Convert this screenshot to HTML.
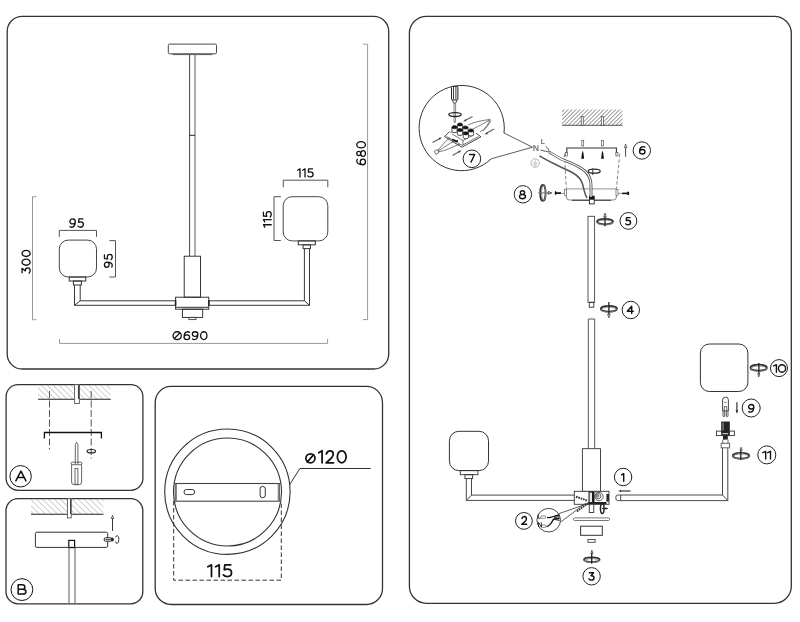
<!DOCTYPE html>
<html><head><meta charset="utf-8">
<style>
html,body{margin:0;padding:0;background:#fff;}
svg{display:block;will-change:transform;}
text{font-family:"Liberation Sans",sans-serif;fill:#111;stroke:#111;stroke-width:0.3;}
</style></head>
<body>
<svg width="800" height="622" viewBox="0 0 800 622">
<defs>
<pattern id="hatch" patternUnits="userSpaceOnUse" width="4.2" height="4.2" patternTransform="rotate(-45)">
<line x1="0" y1="0" x2="0" y2="4.2" stroke="#999" stroke-width="0.9"/>
</pattern>
<pattern id="hatch2" patternUnits="userSpaceOnUse" width="2.8" height="2.8" patternTransform="rotate(45)">
<line x1="0" y1="0" x2="0" y2="2.8" stroke="#333" stroke-width="1"/>
</pattern>
</defs>

<!-- ============ PANELS ============ -->
<g fill="none" stroke="#333" stroke-width="1.3">
<rect x="7.2" y="16.4" width="381.5" height="352.6" rx="15" ry="15"/>
<rect x="6.1" y="384.6" width="136.8" height="105.7" rx="12" ry="12"/>
<rect x="6" y="498.6" width="136.8" height="105.2" rx="12" ry="12"/>
<rect x="155.2" y="386.4" width="227.3" height="218.1" rx="16" ry="16"/>
<rect x="409.4" y="16.3" width="381.9" height="587" rx="17" ry="17"/>
</g>

<!-- ============ TOP-LEFT PANEL ============ -->
<g id="tl">
<!-- canopy -->
<rect x="168.3" y="44.1" width="48.2" height="9.7" rx="1.2" fill="none" stroke="#333" stroke-width="0.9"/>
<line x1="172.5" y1="54.6" x2="212.4" y2="54.6" stroke="#555" stroke-width="1"/>
<!-- rod -->
<line x1="189.6" y1="55" x2="189.6" y2="256" stroke="#444" stroke-width="1"/>
<line x1="195" y1="55" x2="195" y2="256" stroke="#777" stroke-width="1.2"/>
<line x1="189.6" y1="135.3" x2="195" y2="135.3" stroke="#222" stroke-width="1"/>
<!-- body -->
<rect x="184.2" y="256.2" width="16.3" height="41" fill="none" stroke="#222" stroke-width="0.9"/>
<!-- hub -->
<rect x="175.6" y="297.2" width="33.2" height="12" fill="none" stroke="#222" stroke-width="0.9"/>
<line x1="175.6" y1="307.3" x2="208.8" y2="307.3" stroke="#333" stroke-width="1"/>
<path d="M175.6,300.3 V305.8 M208.8,300.3 V305.8" stroke="#222" stroke-width="1.6"/>
<rect x="182.4" y="309.2" width="20.3" height="8.2" fill="none" stroke="#222" stroke-width="0.9"/>
<rect x="188.9" y="317.4" width="7" height="2.2" fill="none" stroke="#444" stroke-width="0.9"/>
<!-- arms -->
<g fill="none" stroke="#222" stroke-width="0.9">
<path d="M175.6,300.8 H80.2 V285 M175.6,305.3 H74.5 V285 M74.5,305.3 L80.2,300.8"/>
<path d="M208.8,300.8 H304.4 V248.6 M208.8,305.3 H309.5 V248.6 M309.5,305.3 L304.4,300.8"/>
</g>
<!-- left shade -->
<rect x="59.3" y="240.1" width="37.2" height="36.9" rx="9" ry="9" fill="none" stroke="#333" stroke-width="0.9"/>
<rect x="69.2" y="277" width="16.6" height="4" fill="none" stroke="#333" stroke-width="1"/>
<rect x="73.4" y="281" width="8" height="4" fill="none" stroke="#333" stroke-width="1"/>
<!-- right shade -->
<rect x="283.2" y="196.7" width="44.6" height="44.2" rx="9" ry="9" fill="none" stroke="#333" stroke-width="0.9"/>
<rect x="298.3" y="240.9" width="17" height="3.9" fill="none" stroke="#333" stroke-width="1"/>
<rect x="303.1" y="244.8" width="7.3" height="3.8" fill="none" stroke="#333" stroke-width="1"/>
<!-- dimension lines (black) -->
<g fill="none" stroke="#555" stroke-width="1">
<path d="M59.3,236.9 V230.4 H96.5 V236.9"/>
<path d="M109.4,240.6 H115.5 V277 H109.4"/>
<path d="M283.3,187.3 V180.2 H327.8 V187.3"/>
<path d="M280.9,196.7 H274 V240.5 H280.8"/>
</g>
<!-- dimension lines (gray) -->
<g fill="none" stroke="#999" stroke-width="1">
<path d="M36.5,196.7 H32.5 V319.7 H36.5"/>
<path d="M363,44.2 H367.6 V319.6 H363"/>
<path d="M59.5,339 V343.4 H327.6 V339"/>
</g>
<!-- dimension text -->
</g>

<!-- ============ PANEL A ============ -->
<g id="pa">
<rect x="38" y="385" width="72.8" height="14.3" fill="url(#hatch)"/>
<line x1="38" y1="399.3" x2="110.8" y2="399.3" stroke="#222" stroke-width="1.1"/>
<rect x="74.6" y="384.6" width="4.8" height="18.9" fill="#fff" stroke="#555" stroke-width="0.9"/>
<line x1="78.6" y1="385" x2="78.6" y2="399" stroke="#444" stroke-width="1.4"/>
<g stroke="#444" stroke-width="0.9" stroke-dasharray="7,2.5" fill="none">
<line x1="49.5" y1="391" x2="49.5" y2="449.5"/>
<line x1="91.2" y1="391" x2="91.2" y2="458.5"/>
</g>
<path d="M44.4,438.5 V432.5 H101.4 V438.5" fill="none" stroke="#111" stroke-width="1.3"/>
<ellipse cx="91.3" cy="451.2" rx="4.2" ry="1.7" fill="none" stroke="#222" stroke-width="1.2"/>
<!-- screwdriver -->
<g fill="none" stroke="#555" stroke-width="0.9">
<path d="M75.3,464 V444.5 L76.6,442.2 L77.9,444.5 V464"/>
<rect x="71.2" y="462.2" width="10.6" height="2.5" rx="0.8"/>
<path d="M71.6,464.7 V482 Q71.6,484.7 74,484.7 H79.2 Q81.6,484.7 81.6,482 V464.7"/>
<rect x="75" y="468.6" width="2.9" height="15.6"/>
</g>
<circle cx="20.6" cy="476.3" r="10.7" fill="none" stroke="#111" stroke-width="1"/>
</g>

<!-- ============ PANEL B ============ -->
<g id="pb">
<rect x="31" y="499" width="72.4" height="15.3" fill="url(#hatch)"/>
<line x1="31" y1="514.3" x2="103.4" y2="514.3" stroke="#222" stroke-width="1.1"/>
<rect x="67.4" y="498.6" width="3.8" height="19.3" fill="#fff" stroke="#555" stroke-width="0.9"/>
<line x1="70.6" y1="499" x2="70.6" y2="514" stroke="#444" stroke-width="1.2"/>
<rect x="35.4" y="532.2" width="72.3" height="15.2" rx="1.5" fill="none" stroke="#333" stroke-width="1"/>
<rect x="68.8" y="540.4" width="5.8" height="7.2" fill="none" stroke="#111" stroke-width="1.2"/>
<g stroke="#666" stroke-width="1.1">
<line x1="69" y1="547.6" x2="69" y2="603.5"/>
<line x1="75" y1="547.6" x2="75" y2="603.5"/>
</g>
<path d="M112.5,531 V516.5" stroke="#222" stroke-width="0.9"/>
<path d="M111.3,518.5 L112.5,515.3 L113.7,518.5 Z" fill="#fff" stroke="#222" stroke-width="0.7"/>
<rect x="104.2" y="537.8" width="7.5" height="3.4" rx="1.2" fill="#fff" stroke="#222" stroke-width="1"/>
<path d="M105.5,539.5 H111" stroke="#222" stroke-width="0.8"/>
<path d="M111.5,537.3 Q114,537.5 114,539.5 Q114,541.5 111.5,541.7 Z" fill="#222"/>
<path d="M115.6,537.3 Q116,535.6 117.2,535.6 Q118.9,535.8 118.9,539.5 Q118.9,543.3 117,543.3 Q115.5,543.2 115.5,541.5" fill="none" stroke="#222" stroke-width="0.9"/>
<circle cx="21.9" cy="589.6" r="10.9" fill="none" stroke="#111" stroke-width="1"/>
</g>

<!-- ============ CIRCLE PANEL ============ -->
<g id="pc">
<circle cx="227.4" cy="491.7" r="62.7" fill="none" stroke="#333" stroke-width="1.1"/>
<circle cx="227.5" cy="492" r="54" fill="none" stroke="#333" stroke-width="1.1"/>
<rect x="175.3" y="483.5" width="104" height="17.7" fill="#fff" stroke="#444" stroke-width="1.1"/>
<line x1="176.2" y1="484" x2="176.2" y2="501" stroke="#888" stroke-width="1.6"/>
<line x1="278.5" y1="484" x2="278.5" y2="501" stroke="#888" stroke-width="1.6"/>
<rect x="184" y="489.5" width="10.6" height="5.1" rx="2.5" fill="none" stroke="#333" stroke-width="1"/>
<rect x="260.1" y="486.4" width="5.2" height="11.3" rx="2.5" fill="none" stroke="#333" stroke-width="1"/>
<g stroke="#333" stroke-width="1" stroke-dasharray="4.5,2.5" fill="none">
<path d="M173.7,501 V580.2 H281.3 V501"/>
</g>
<path d="M289.6,484.7 L299.9,468.5 H370.8" fill="none" stroke="#333" stroke-width="1"/>
</g>

<!-- ============ RIGHT PANEL ============ -->
<g id="rp">
<!-- ceiling -->
<rect x="562" y="109.4" width="60.5" height="15.9" fill="url(#hatch2)"/>
<line x1="562" y1="125.3" x2="622.5" y2="125.3" stroke="#555" stroke-width="1"/>
<rect x="581.2" y="116.4" width="2" height="9.1" fill="#fff" stroke="#444" stroke-width="0.7"/>
<rect x="601.3" y="116.4" width="2" height="9.1" fill="#fff" stroke="#444" stroke-width="0.7"/>
<!-- dowels -->
<rect x="581.8" y="140.3" width="1.9" height="5.7" fill="#fff" stroke="#555" stroke-width="0.7"/>
<rect x="601.6" y="140.3" width="1.9" height="5.7" fill="#fff" stroke="#555" stroke-width="0.7"/>
<!-- bracket -->
<path d="M566.8,154.5 V148 H616.4 V154.5" fill="none" stroke="#333" stroke-width="1.1"/>
<rect x="565.3" y="152.5" width="2" height="3.5" fill="#fff" stroke="#555" stroke-width="0.7"/>
<rect x="615.9" y="152.5" width="2" height="3.5" fill="#fff" stroke="#555" stroke-width="0.7"/>
<path d="M581.3,158.8 L581.9,153.5 L582.7,150.5 L583.5,153.5 L584.1,158.8 Z" fill="#111"/>
<path d="M601.1,158.8 L601.7,153.5 L602.5,150.5 L603.3,153.5 L603.9,158.8 Z" fill="#111"/>
<g stroke="#666" stroke-width="0.8" stroke-dasharray="3.5,2" fill="none">
<path d="M564.4,153.8 L566.3,188.5"/>
<path d="M619.8,153.8 L616.4,188.5"/>
</g>
<!-- canopy -->
<path d="M566.3,188.5 V197 Q566.3,200 569.5,200 H613.2 Q616.4,200 616.4,197 V188.5" fill="none" stroke="#777" stroke-width="0.9"/>
<line x1="566.3" y1="188.8" x2="616.4" y2="188.8" stroke="#aaa" stroke-width="1.3"/>
<line x1="572" y1="200.4" x2="611" y2="200.4" stroke="#555" stroke-width="1.1"/>
<rect x="589.4" y="196.2" width="4.8" height="7.7" fill="#fff" stroke="#222" stroke-width="0.9"/>
<rect x="589.4" y="196.2" width="4.8" height="3.5" fill="#111"/>
<!-- side screws -->
<path d="M556,193.1 H561" stroke="#111" stroke-width="1.7"/>
<ellipse cx="555.6" cy="193.1" rx="0.9" ry="2" fill="#111"/>
<path d="M561.3,193.4 H566" stroke="#444" stroke-width="0.6"/>
<path d="M622.2,193.4 H627.7" stroke="#111" stroke-width="1.6"/>
<ellipse cx="628.1" cy="193.4" rx="1.1" ry="1.8" fill="#111"/>
<path d="M617.5,193.4 H622.2" stroke="#444" stroke-width="0.6"/>
<rect x="564.6" y="189.5" width="2" height="6" fill="#fff" stroke="#555" stroke-width="0.6"/>
<rect x="616" y="189.5" width="2" height="6" fill="#fff" stroke="#555" stroke-width="0.6"/>
<!-- wires -->
<path d="M549.3,152.1 C556,156 560,159 566,161 C574,164 580,167 585.4,171.4 C589,175 591,179 591,185 V197" fill="none" stroke="#444" stroke-width="2.8"/>
<path d="M549.3,152.1 C556,156 560,159 566,161 C574,164 580,167 585.4,171.4 C589,175 591,179 591,185 V197" fill="none" stroke="#fff" stroke-width="1.2"/>
<path d="M545.7,146.4 C548,148 549,150 549.3,152.1 M540.4,150 C544,151 547,151.5 549.3,152.1" fill="none" stroke="#444" stroke-width="0.9"/>
<path d="M539.4,155.8 C548,161 555,164 561.3,167.3 C567,170 571,171.5 573.9,173.5 C578,176 581,179 582.5,184 C584,189 584.5,194 587,198" fill="none" stroke="#555" stroke-width="1.5"/>
<ellipse cx="594.2" cy="171.2" rx="6" ry="2" fill="none" stroke="#222" stroke-width="1.2"/>
<line x1="592.8" y1="168.5" x2="592.8" y2="175" stroke="#222" stroke-width="0.9"/>
<!-- N L ground -->
<text x="535.8" y="151.1" font-size="8.7" text-anchor="middle" font-weight="bold" style="fill:#777;stroke:none">N</text>
<text x="542.9" y="143.7" font-size="6.8" text-anchor="middle" font-weight="bold" style="fill:#666;stroke:none">L</text>
<circle cx="535.2" cy="163.1" r="4.2" fill="none" stroke="#aaa" stroke-width="0.9"/>
<path d="M532.7,163 H537.7 M533.4,164.5 H537 M534.2,165.9 H536.2 M535.2,160.3 V163" stroke="#aaa" stroke-width="0.7"/>
<!-- step 8 ring + arrow -->
<ellipse cx="542.9" cy="192.9" rx="2.7" ry="8" fill="none" stroke="#333" stroke-width="1.8"/>
<ellipse cx="543.7" cy="192.9" rx="2.1" ry="7.4" fill="none" stroke="#888" stroke-width="0.9"/>
<path d="M538.2,192.9 H548.5" stroke="#777" stroke-width="1.1"/>
<path d="M548.3,191.5 L551.75,192.9 L548.3,194.3 Z" fill="#fff" stroke="#222" stroke-width="0.8"/>
<!-- up arrow 6 -->
<path d="M625.6,156.7 V146" stroke="#333" stroke-width="0.9"/>
<path d="M624.4,147.5 L625.6,144 L626.8,147.5 Z" fill="#fff" stroke="#333" stroke-width="0.7"/>
<!-- inset 7 -->
<path d="M504,133 A42.6,42.6 0 1,0 491.2,158.8" fill="none" stroke="#333" stroke-width="1"/>
<path d="M504,133 L532.5,147.2 L491.2,158.8" fill="none" stroke="#333" stroke-width="0.8"/>
<g id="inset7">
<!-- screwdriver -->
<rect x="451.5" y="86.4" width="6.4" height="13.6" rx="1" fill="#fff" stroke="#222" stroke-width="1"/>
<path d="M453.5,87 V99.5 M455.9,87 V99.5" stroke="#222" stroke-width="0.9"/>
<path d="M452.5,100 L453.5,103 H456 L457,100" fill="none" stroke="#333" stroke-width="0.8"/>
<path d="M454,103 V121 L454.8,123 L455.6,121 V103" fill="none" stroke="#666" stroke-width="0.8"/>
<ellipse cx="455" cy="114.6" rx="6.2" ry="1.9" fill="none" stroke="#222" stroke-width="1.3"/>
<!-- block base -->
<path d="M449.6,131.5 L444.5,136.6 L461.9,147.2 L481,136.8 L476,133.2" fill="#fff" stroke="#333" stroke-width="0.9"/>
<path d="M446.5,136.3 L462,145.4 L478.5,136.5" fill="none" stroke="#444" stroke-width="0.7"/>
<path d="M452,134 L463,140.5 L474,134.5 M463,140.5 V145" fill="none" stroke="#444" stroke-width="0.7"/>
<path d="M450,133 L457,129 M458,140 L455,142.5" fill="none" stroke="#555" stroke-width="0.7"/>
<!-- cylinders -->
<g fill="#fff" stroke="#222" stroke-width="0.8">
<path d="M457.4,124.5 V128.5 A2.6,1.5 0 0,0 462.6,128.5 V124.5"/>
<path d="M451.9,127.2 V131.2 A2.6,1.5 0 0,0 457.1,131.2 V127.2"/>
<path d="M462.9,127.5 V131.5 A2.6,1.5 0 0,0 468.1,131.5 V127.5"/>
<path d="M457.4,130 V134 A2.6,1.5 0 0,0 462.6,134 V130"/>
<path d="M468.4,130.5 V134.5 A2.6,1.5 0 0,0 473.6,134.5 V130.5"/>
<path d="M463.2,133.3 V137.3 A2.6,1.5 0 0,0 468.4,137.3 V133.3"/>
</g>
<g fill="#111" stroke="#111" stroke-width="0.6">
<ellipse cx="460" cy="124.5" rx="2.6" ry="1.6"/>
<ellipse cx="454.5" cy="127.2" rx="2.6" ry="1.6"/>
<ellipse cx="465.5" cy="127.5" rx="2.6" ry="1.6"/>
<ellipse cx="460" cy="130" rx="2.6" ry="1.6"/>
<ellipse cx="471" cy="130.5" rx="2.6" ry="1.6"/>
<ellipse cx="465.8" cy="133.3" rx="2.6" ry="1.6"/>
</g>
<!-- wires in inset -->
<g fill="none" stroke="#444" stroke-width="0.7">
<path d="M437,151 C442,146 446,140 450,138"/>
<path d="M437,151.5 C444,148 449,143 455,141"/>
<path d="M437,152 C446,151 452,147 460,144"/>
<path d="M490,119.5 C484,120 474,122 468,125"/>
<path d="M490,119.5 C485,123 479,126 473,129"/>
<path d="M490,119.5 C488,125 485,129 480,132"/>
<path d="M491,120.5 C489,124 487,127 483,131"/>
</g>
<rect x="434.8" y="150.3" width="3.6" height="3.4" fill="#fff" stroke="#333" stroke-width="0.6" transform="rotate(-30 436.5 152)"/>
<path d="M452,139.5 L458,141.5" stroke="#111" stroke-width="1.4"/>
<!-- arrows in inset -->
<g stroke="#666" stroke-width="1.3" fill="none">
<path d="M472.5,116.5 L465,120.5"/>
<path d="M494,129 L486.5,133.3"/>
<path d="M432.5,142.5 L440,138.5"/>
<path d="M452.5,155.5 L459.5,151.5"/>
</g>
<g fill="#444">
<path d="M463,121.5 L465.5,119 L466.3,121.2 Z"/>
<path d="M484.5,134.5 L487,132 L487.8,134.2 Z"/>
<path d="M442,137.5 L439.5,140 L438.7,137.8 Z"/>
<path d="M461.5,150.5 L459,153 L458.2,150.8 Z"/>
</g>
<circle cx="471.9" cy="158.8" r="8.8" fill="#fff" stroke="#222" stroke-width="1"/>
</g>
<circle cx="641.8" cy="150.5" r="8.7" fill="none" stroke="#222" stroke-width="1"/>
<circle cx="522.9" cy="194.3" r="8.7" fill="none" stroke="#222" stroke-width="1"/>

<!-- rod 1 -->
<rect x="588" y="216.3" width="6.6" height="86" fill="none" stroke="#444" stroke-width="0.9"/>
<rect x="589.3" y="302.3" width="4.5" height="4.9" fill="none" stroke="#333" stroke-width="0.9"/>
<!-- rotation icon 5 -->
<ellipse cx="605" cy="221.6" rx="8" ry="2.8" fill="none" stroke="#333" stroke-width="1.7"/>
<ellipse cx="605" cy="222.50" rx="7.40" ry="2.40" fill="none" stroke="#888" stroke-width="0.9"/>
<path d="M605,226.3 V215.5" stroke="#222" stroke-width="1.3"/>
<path d="M603.7,216.8 L605,213.1 L606.3,216.8 Z" fill="#fff" stroke="#222" stroke-width="0.7"/>
<circle cx="628.4" cy="220.9" r="8.4" fill="none" stroke="#222" stroke-width="1"/>
<!-- rotation icon 4 -->
<ellipse cx="608.9" cy="308.8" rx="8.1" ry="2.9" fill="none" stroke="#333" stroke-width="1.7"/>
<ellipse cx="608.9" cy="309.70" rx="7.50" ry="2.50" fill="none" stroke="#888" stroke-width="0.9"/>
<path d="M608.9,302 V315" stroke="#222" stroke-width="1.3"/>
<path d="M607.6,314.2 L608.9,317.8 L610.2,314.2 Z" fill="#fff" stroke="#222" stroke-width="0.7"/>
<circle cx="630.8" cy="310" r="8.7" fill="none" stroke="#222" stroke-width="1"/>
<!-- rod 2 -->
<path d="M588.3,448.7 V319 H594.7 V448.7" fill="none" stroke="#444" stroke-width="0.9"/>
<!-- body -->
<rect x="582.4" y="448.7" width="18.1" height="42.7" fill="none" stroke="#333" stroke-width="0.9"/>
<!-- hub -->
<rect x="574.3" y="491.3" width="34.7" height="13" fill="#fff" stroke="#333" stroke-width="0.9"/>
<rect x="588.5" y="491.6" width="6" height="12.4" fill="#1a1a1a"/>
<rect x="589.6" y="492.6" width="2.4" height="10" fill="#e8e8e8"/>
<rect x="588.5" y="502" width="18" height="2.2" fill="#222"/>
<g fill="none" stroke="#333" stroke-width="0.8">
<circle cx="599" cy="496.6" r="4.2"/>
<circle cx="598.3" cy="496.2" r="2.6"/>
<circle cx="597.8" cy="496" r="1.1"/>
</g>
<path d="M594.5,493 Q596,491.8 600,492" fill="none" stroke="#555" stroke-width="0.6"/>
<rect x="606.4" y="494" width="2.4" height="7.5" fill="#111"/>
<path d="M606.9,494.8 V500.8" stroke="#ddd" stroke-width="0.6" stroke-dasharray="1,1"/>
<path d="M576,496.7 L587,500.5" stroke="#333" stroke-width="2" stroke-dasharray="1.6,0.9"/>
<path d="M577,511.5 L588.5,503" stroke="#333" stroke-width="1.8" stroke-dasharray="1.6,0.9"/>
<path d="M559,513.6 L588.2,503.5 M560.7,522 L586,503" fill="none" stroke="#333" stroke-width="0.8"/>
<rect x="589.25" y="504.25" width="4.5" height="8.25" fill="#fff" stroke="#333" stroke-width="0.9"/>
<ellipse cx="602.25" cy="508.5" rx="1.8" ry="5" fill="none" stroke="#222" stroke-width="1.5"/>
<path d="M602,508.5 H606" stroke="#222" stroke-width="1"/>
<path d="M605.5,507.2 L608.2,508.5 L605.5,509.8 Z" fill="#222"/>
<!-- plate, cap, nut -->
<rect x="573.3" y="517.9" width="36.3" height="2.6" rx="1.3" fill="none" stroke="#777" stroke-width="1"/>
<rect x="580.6" y="526.2" width="21.7" height="9.1" fill="none" stroke="#333" stroke-width="1"/>
<rect x="587.9" y="539.5" width="7.2" height="2.8" fill="none" stroke="#444" stroke-width="0.9"/>
<!-- rotation icon 3 -->
<ellipse cx="591.8" cy="559.65" rx="7.9" ry="2.3" fill="none" stroke="#333" stroke-width="1.6"/>
<ellipse cx="591.8" cy="560.55" rx="7.30" ry="1.90" fill="none" stroke="#888" stroke-width="0.9"/>
<path d="M591.7,563.8 V552.5" stroke="#222" stroke-width="1.3"/>
<path d="M590.8,553.6 L591.9,550.3 L593,553.6 Z" fill="#fff" stroke="#222" stroke-width="0.7"/>
<circle cx="591.6" cy="576.3" r="8.7" fill="none" stroke="#222" stroke-width="1"/>
<!-- inset 2 -->
<circle cx="548.7" cy="520.2" r="11.8" fill="#fff" stroke="#333" stroke-width="0.9"/>
<g fill="none" stroke="#111">
<path d="M547,517.6 C550,518 552,517 555,516 L559.5,515" stroke-width="1.3"/>
<path d="M546.5,526.6 C550,526 551.5,523 553,520 C554,518.5 556,518.5 559.5,518.5" stroke-width="1.4"/>
<path d="M553,519 L559.5,520.5 M554,517.5 L559.5,516.8" stroke-width="0.9"/>
</g>
<g fill="#fff" stroke="#444" stroke-width="0.6">
<rect x="541" y="515.8" width="4.5" height="2.4" rx="0.5"/>
<rect x="541.3" y="525" width="4.5" height="2.4" rx="0.5"/>
</g>
<path d="M538.3,513.8 V518.3 H540.6" fill="none" stroke="#222" stroke-width="0.9"/>
<path d="M538.5,527 V522.3 L541.3,527 V522.3" fill="none" stroke="#222" stroke-width="0.9"/>
<circle cx="523.9" cy="520.9" r="8.4" fill="none" stroke="#222" stroke-width="1"/>
<!-- left arm & shade -->
<g fill="none" stroke="#333" stroke-width="0.9">
<path d="M574.3,495.1 H471.5 V478.6 M574.3,500.4 H466.3 V478.6 M466.3,500.4 L471.5,495.1"/>
</g>
<rect x="449.4" y="431.3" width="39.1" height="39.3" rx="9.5" ry="9.5" fill="none" stroke="#333" stroke-width="1"/>
<rect x="460.3" y="470.6" width="17.6" height="4.1" fill="none" stroke="#333" stroke-width="0.9"/>
<rect x="464.9" y="474.7" width="7.7" height="3.9" fill="none" stroke="#333" stroke-width="0.9"/>
<!-- step 1 -->
<circle cx="623.1" cy="477" r="8.7" fill="none" stroke="#222" stroke-width="1"/>
<path d="M630.6,491 H620" stroke="#333" stroke-width="1.2"/>
<path d="M621,489.8 L618.4,491 L621,492.2 Z" fill="#333"/>
<!-- right arm -->
<path d="M620.7,495 H722.5 V447.8 M620.7,500.6 H727.8 V447.8 M727.8,500.6 L722.5,495" fill="none" stroke="#333" stroke-width="0.9"/>
<path d="M620.7,495 H617.5 Q615.8,495 615.8,497.8 Q615.8,500.6 617.5,500.6 H620.7 Z" fill="none" stroke="#333" stroke-width="0.9"/>
<!-- socket 11 -->
<rect x="721.2" y="443.3" width="8.4" height="4.5" fill="#fff" stroke="#666" stroke-width="1"/>
<rect x="716.5" y="431.1" width="17.9" height="4.5" fill="#fff" stroke="#333" stroke-width="0.9"/>
<rect x="721.2" y="421.5" width="8.6" height="14" fill="#222"/>
<rect x="722.3" y="422.6" width="1.5" height="8" fill="#777"/>
<rect x="722.5" y="433" width="5.6" height="1.2" fill="#ccc"/>
<rect x="723" y="435.6" width="4.8" height="4" fill="#222"/>
<line x1="722.8" y1="439.5" x2="722.8" y2="443.3" stroke="#444" stroke-width="0.8"/>
<line x1="728" y1="439.5" x2="728" y2="443.3" stroke="#444" stroke-width="0.8"/>
<!-- bulb 9 -->
<path d="M722.6,411 V400 Q722.6,397.1 725.5,397.1 Q728.4,397.1 728.4,400 V411 Z" fill="#fff" stroke="#333" stroke-width="0.9"/>
<path d="M724.2,402 Q725.5,403.5 726.8,402 M724.3,406.5 H726.7 M724.3,406.5 V411 M726.7,406.5 V411" fill="none" stroke="#444" stroke-width="0.8"/>
<rect x="723" y="411" width="1.7" height="5.6" rx="0.6" fill="#fff" stroke="#333" stroke-width="0.8"/>
<rect x="726.3" y="411" width="1.7" height="5.6" rx="0.6" fill="#fff" stroke="#333" stroke-width="0.8"/>
<path d="M736.9,402.2 V411" stroke="#222" stroke-width="1.1"/>
<path d="M735.6,410.3 L736.9,413.8 L738.2,410.3 Z" fill="#222"/>
<circle cx="751.2" cy="408" r="9" fill="none" stroke="#222" stroke-width="1"/>
<!-- rotation 11 -->
<ellipse cx="741" cy="455.65" rx="8.2" ry="2.9" fill="none" stroke="#333" stroke-width="1.7"/>
<ellipse cx="741" cy="456.55" rx="7.60" ry="2.50" fill="none" stroke="#888" stroke-width="0.9"/>
<path d="M740.8,460.1 V449" stroke="#222" stroke-width="1.3"/>
<path d="M740,450.3 L741.1,447.2 L742.2,450.3 Z" fill="#fff" stroke="#222" stroke-width="0.7"/>
<circle cx="766.8" cy="454.9" r="9" fill="none" stroke="#222" stroke-width="1"/>
<!-- shade 10 -->
<rect x="700.4" y="344" width="47.5" height="47.5" rx="9" ry="9" fill="none" stroke="#333" stroke-width="1"/>
<ellipse cx="758.65" cy="367.7" rx="8.2" ry="3" fill="none" stroke="#333" stroke-width="1.7"/>
<ellipse cx="758.65" cy="368.60" rx="7.60" ry="2.60" fill="none" stroke="#888" stroke-width="0.9"/>
<path d="M758.9,363 V374" stroke="#222" stroke-width="1.3"/>
<path d="M757.7,373.7 L758.75,376.9 L759.8,373.7 Z" fill="#fff" stroke="#222" stroke-width="0.7"/>
<circle cx="779" cy="368.1" r="8.5" fill="none" stroke="#222" stroke-width="1"/>
</g>

<!-- ===== GLYPH TEXT ===== -->
<g transform="translate(69.850,218.950) scale(0.7895,0.8300)" fill="none" stroke="#111" stroke-width="1.3" stroke-linecap="round" stroke-linejoin="round"><path vector-effect="non-scaling-stroke" transform="translate(0.000,0)" d="M6.9,3 C6.9,4.65 5.35,6 3.45,6 C1.55,6 0,4.65 0,3 C0,1.35 1.55,0 3.45,0 C5.35,0 6.9,1.35 6.9,3 Z M6.9,3 C6.9,7.2 5,10 2.3,10 C1.5,10 0.8,9.75 0.2,9.3"/><path vector-effect="non-scaling-stroke" transform="translate(10.300,0)" d="M6.1,0 H1.2 L0.8,4.2 C1.6,3.8 2.5,3.6 3.5,3.6 C5.6,3.6 6.8,4.9 6.8,6.8 C6.8,8.8 5.4,10 3.3,10 C1.9,10 0.8,9.5 0,8.6"/></g>
<g transform="translate(297.650,168.900) scale(0.7857,0.8050)" fill="none" stroke="#111" stroke-width="1.3" stroke-linecap="round" stroke-linejoin="round"><path vector-effect="non-scaling-stroke" transform="translate(0.000,0)" d="M0,1.7 L3,0 V10"/><path vector-effect="non-scaling-stroke" transform="translate(6.400,0)" d="M0,1.7 L3,0 V10"/><path vector-effect="non-scaling-stroke" transform="translate(12.800,0)" d="M6.1,0 H1.2 L0.8,4.2 C1.6,3.8 2.5,3.6 3.5,3.6 C5.6,3.6 6.8,4.9 6.8,6.8 C6.8,8.8 5.4,10 3.3,10 C1.9,10 0.8,9.5 0,8.6"/></g>
<g transform="translate(173.050,331.750) scale(0.8033,0.7800)" fill="none" stroke="#111" stroke-width="1.3" stroke-linecap="round" stroke-linejoin="round"><path vector-effect="non-scaling-stroke" transform="translate(0.000,0)" d="M5.15,0 C7.99,0 10.3,2.24 10.3,5 C10.3,7.76 7.99,10 5.15,10 C2.31,10 0,7.76 0,5 C0,2.24 2.31,0 5.15,0 Z M1.5,8.9 L8.8,1.1"/><path vector-effect="non-scaling-stroke" transform="translate(13.700,0)" d="M0,7 C0,5.35 1.55,4 3.45,4 C5.35,4 6.9,5.35 6.9,7 C6.9,8.65 5.35,10 3.45,10 C1.55,10 0,8.65 0,7 Z M0,7 C0,2.8 1.9,0 4.6,0 C5.4,0 6.1,0.25 6.7,0.7"/><path vector-effect="non-scaling-stroke" transform="translate(24.000,0)" d="M6.9,3 C6.9,4.65 5.35,6 3.45,6 C1.55,6 0,4.65 0,3 C0,1.35 1.55,0 3.45,0 C5.35,0 6.9,1.35 6.9,3 Z M6.9,3 C6.9,7.2 5,10 2.3,10 C1.5,10 0.8,9.75 0.2,9.3"/><path vector-effect="non-scaling-stroke" transform="translate(34.300,0)" d="M3.95,0 C6.13,0 7.9,2.24 7.9,5 C7.9,7.76 6.13,10 3.95,10 C1.77,10 0,7.76 0,5 C0,2.24 1.77,0 3.95,0 Z"/></g>
<g transform="translate(207.875,564.875) scale(1.2066,1.1650)" fill="none" stroke="#111" stroke-width="1.75" stroke-linecap="round" stroke-linejoin="round"><path vector-effect="non-scaling-stroke" transform="translate(0.000,0)" d="M0,1.7 L3,0 V10"/><path vector-effect="non-scaling-stroke" transform="translate(6.400,0)" d="M0,1.7 L3,0 V10"/><path vector-effect="non-scaling-stroke" transform="translate(12.800,0)" d="M6.1,0 H1.2 L0.8,4.2 C1.6,3.8 2.5,3.6 3.5,3.6 C5.6,3.6 6.8,4.9 6.8,6.8 C6.8,8.8 5.4,10 3.3,10 C1.9,10 0.8,9.5 0,8.6"/></g>
<g transform="translate(305.875,450.775) scale(1.1119,1.2050)" fill="none" stroke="#111" stroke-width="1.75" stroke-linecap="round" stroke-linejoin="round"><path vector-effect="non-scaling-stroke" transform="translate(0.000,0)" d="M4.1,2.5 C6.36,2.5 8.2,4.18 8.2,6.25 C8.2,8.32 6.36,10 4.1,10 C1.84,10 0,8.32 0,6.25 C0,4.18 1.84,2.5 4.1,2.5 Z M1.2,9.3 L7.0,3.2"/><path vector-effect="non-scaling-stroke" transform="translate(11.600,0)" d="M0,1.7 L3,0 V10"/><path vector-effect="non-scaling-stroke" transform="translate(18.000,0)" d="M0.4,2.6 C0.9,1 2.1,0 3.6,0 C5.4,0 6.6,1.2 6.6,2.9 C6.6,4 6.1,4.9 5,6 L0.2,10 H6.9"/><path vector-effect="non-scaling-stroke" transform="translate(28.300,0)" d="M3.95,0 C6.13,0 7.9,2.24 7.9,5 C7.9,7.76 6.13,10 3.95,10 C1.77,10 0,7.76 0,5 C0,2.24 1.77,0 3.95,0 Z"/></g>
<g transform="translate(15.850,471.150) scale(0.9806,0.9800)" fill="none" stroke="#111" stroke-width="1.5" stroke-linecap="round" stroke-linejoin="round"><path vector-effect="non-scaling-stroke" transform="translate(0.000,0)" d="M0,10 L5.15,0 L10.3,10 M1.9,6.4 H8.4"/></g>
<g transform="translate(18.150,584.850) scale(0.9512,0.9200)" fill="none" stroke="#111" stroke-width="1.5" stroke-linecap="round" stroke-linejoin="round"><path vector-effect="non-scaling-stroke" transform="translate(0.000,0)" d="M0,10 V0 H4.2 C6,0 7.1,1 7.1,2.5 C7.1,4 6,4.8 4.2,4.8 H0 M4.2,4.8 H4.8 C7,4.8 8.2,5.9 8.2,7.4 C8.2,9 7,10 4.8,10 H0"/></g>
<g transform="translate(621.600,473.650) scale(0.7000,0.7600)" fill="none" stroke="#111" stroke-width="1.4" stroke-linecap="round" stroke-linejoin="round"><path vector-effect="non-scaling-stroke" transform="translate(0.000,0)" d="M0,1.7 L3,0 V10"/></g>
<g transform="translate(521.600,516.500) scale(0.7319,0.7800)" fill="none" stroke="#111" stroke-width="1.4" stroke-linecap="round" stroke-linejoin="round"><path vector-effect="non-scaling-stroke" transform="translate(0.000,0)" d="M0.4,2.6 C0.9,1 2.1,0 3.6,0 C5.4,0 6.6,1.2 6.6,2.9 C6.6,4 6.1,4.9 5,6 L0.2,10 H6.9"/></g>
<g transform="translate(588.900,572.800) scale(0.7500,0.7300)" fill="none" stroke="#111" stroke-width="1.4" stroke-linecap="round" stroke-linejoin="round"><path vector-effect="non-scaling-stroke" transform="translate(0.000,0)" d="M0.6,0 H6.2 L2.9,4.1 H3.5 C5.6,4.1 6.8,5.3 6.8,7 C6.8,8.8 5.4,10 3.3,10 C2,10 0.8,9.5 0,8.6"/></g>
<g transform="translate(627.300,306.300) scale(0.7229,0.7300)" fill="none" stroke="#111" stroke-width="1.4" stroke-linecap="round" stroke-linejoin="round"><path vector-effect="non-scaling-stroke" transform="translate(0.000,0)" d="M6.1,0 L0,6.7 H8.3 M6.1,0 V10"/></g>
<g transform="translate(625.700,217.600) scale(0.7132,0.7300)" fill="none" stroke="#111" stroke-width="1.4" stroke-linecap="round" stroke-linejoin="round"><path vector-effect="non-scaling-stroke" transform="translate(0.000,0)" d="M6.1,0 H1.2 L0.8,4.2 C1.6,3.8 2.5,3.6 3.5,3.6 C5.6,3.6 6.8,4.9 6.8,6.8 C6.8,8.8 5.4,10 3.3,10 C1.9,10 0.8,9.5 0,8.6"/></g>
<g transform="translate(639.600,146.600) scale(0.7826,0.7400)" fill="none" stroke="#111" stroke-width="1.4" stroke-linecap="round" stroke-linejoin="round"><path vector-effect="non-scaling-stroke" transform="translate(0.000,0)" d="M0,7 C0,5.35 1.55,4 3.45,4 C5.35,4 6.9,5.35 6.9,7 C6.9,8.65 5.35,10 3.45,10 C1.55,10 0,8.65 0,7 Z M0,7 C0,2.8 1.9,0 4.6,0 C5.4,0 6.1,0.25 6.7,0.7"/></g>
<g transform="translate(469.600,154.500) scale(0.7652,0.7600)" fill="none" stroke="#111" stroke-width="1.4" stroke-linecap="round" stroke-linejoin="round"><path vector-effect="non-scaling-stroke" transform="translate(0.000,0)" d="M0,0 H6.6 L1.9,10"/></g>
<g transform="translate(519.500,190.800) scale(0.8333,0.7900)" fill="none" stroke="#111" stroke-width="1.4" stroke-linecap="round" stroke-linejoin="round"><path vector-effect="non-scaling-stroke" transform="translate(0.000,0)" d="M3.6,0 C5.1,0 6.2,0.95 6.2,2.3 C6.2,3.65 5.1,4.6 3.6,4.6 C2.1,4.6 1,3.65 1,2.3 C1,0.95 2.1,0 3.6,0 Z M3.6,4.6 C5.7,4.6 7.2,5.85 7.2,7.3 C7.2,8.85 5.7,10 3.6,10 C1.5,10 0,8.85 0,7.3 C0,5.85 1.5,4.6 3.6,4.6 Z"/></g>
<g transform="translate(748.600,404.500) scale(0.7536,0.7600)" fill="none" stroke="#111" stroke-width="1.4" stroke-linecap="round" stroke-linejoin="round"><path vector-effect="non-scaling-stroke" transform="translate(0.000,0)" d="M6.9,3 C6.9,4.65 5.35,6 3.45,6 C1.55,6 0,4.65 0,3 C0,1.35 1.55,0 3.45,0 C5.35,0 6.9,1.35 6.9,3 Z M6.9,3 C6.9,7.2 5,10 2.3,10 C1.5,10 0.8,9.75 0.2,9.3"/></g>
<g transform="translate(773.700,364.700) scale(0.9084,0.7500)" fill="none" stroke="#111" stroke-width="1.4" stroke-linecap="round" stroke-linejoin="round"><path vector-effect="non-scaling-stroke" transform="translate(0.000,0)" d="M0,1.7 L3,0 V10"/><path vector-effect="non-scaling-stroke" transform="translate(5.200,0)" d="M3.95,0 C6.13,0 7.9,2.24 7.9,5 C7.9,7.76 6.13,10 3.95,10 C1.77,10 0,7.76 0,5 C0,2.24 1.77,0 3.95,0 Z"/></g>
<g transform="translate(762.900,451.400) scale(0.9268,0.7600)" fill="none" stroke="#111" stroke-width="1.4" stroke-linecap="round" stroke-linejoin="round"><path vector-effect="non-scaling-stroke" transform="translate(0.000,0)" d="M0,1.7 L3,0 V10"/><path vector-effect="non-scaling-stroke" transform="translate(5.200,0)" d="M0,1.7 L3,0 V10"/></g>
<g transform="matrix(0,-0.7485,0.7800,0,104.450,267.250)" fill="none" stroke="#111" stroke-width="1.3" stroke-linecap="round" stroke-linejoin="round"><path vector-effect="non-scaling-stroke" transform="translate(0.000,0)" d="M6.9,3 C6.9,4.65 5.35,6 3.45,6 C1.55,6 0,4.65 0,3 C0,1.35 1.55,0 3.45,0 C5.35,0 6.9,1.35 6.9,3 Z M6.9,3 C6.9,7.2 5,10 2.3,10 C1.5,10 0.8,9.75 0.2,9.3"/><path vector-effect="non-scaling-stroke" transform="translate(10.300,0)" d="M6.1,0 H1.2 L0.8,4.2 C1.6,3.8 2.5,3.6 3.5,3.6 C5.6,3.6 6.8,4.9 6.8,6.8 C6.8,8.8 5.4,10 3.3,10 C1.9,10 0.8,9.5 0,8.6"/></g>
<g transform="matrix(0,-0.7959,0.7800,0,263.450,227.150)" fill="none" stroke="#111" stroke-width="1.3" stroke-linecap="round" stroke-linejoin="round"><path vector-effect="non-scaling-stroke" transform="translate(0.000,0)" d="M0,1.7 L3,0 V10"/><path vector-effect="non-scaling-stroke" transform="translate(6.400,0)" d="M0,1.7 L3,0 V10"/><path vector-effect="non-scaling-stroke" transform="translate(12.800,0)" d="M6.1,0 H1.2 L0.8,4.2 C1.6,3.8 2.5,3.6 3.5,3.6 C5.6,3.6 6.8,4.9 6.8,6.8 C6.8,8.8 5.4,10 3.3,10 C1.9,10 0.8,9.5 0,8.6"/></g>
<g transform="matrix(0,-0.7755,0.8100,0,22.050,273.150)" fill="none" stroke="#111" stroke-width="1.3" stroke-linecap="round" stroke-linejoin="round"><path vector-effect="non-scaling-stroke" transform="translate(0.000,0)" d="M0.6,0 H6.2 L2.9,4.1 H3.5 C5.6,4.1 6.8,5.3 6.8,7 C6.8,8.8 5.4,10 3.3,10 C2,10 0.8,9.5 0,8.6"/><path vector-effect="non-scaling-stroke" transform="translate(10.200,0)" d="M3.95,0 C6.13,0 7.9,2.24 7.9,5 C7.9,7.76 6.13,10 3.95,10 C1.77,10 0,7.76 0,5 C0,2.24 1.77,0 3.95,0 Z"/><path vector-effect="non-scaling-stroke" transform="translate(21.500,0)" d="M3.95,0 C6.13,0 7.9,2.24 7.9,5 C7.9,7.76 6.13,10 3.95,10 C1.77,10 0,7.76 0,5 C0,2.24 1.77,0 3.95,0 Z"/></g>
<g transform="matrix(0,-0.8056,0.8700,0,356.750,164.750)" fill="none" stroke="#111" stroke-width="1.3" stroke-linecap="round" stroke-linejoin="round"><path vector-effect="non-scaling-stroke" transform="translate(0.000,0)" d="M0,7 C0,5.35 1.55,4 3.45,4 C5.35,4 6.9,5.35 6.9,7 C6.9,8.65 5.35,10 3.45,10 C1.55,10 0,8.65 0,7 Z M0,7 C0,2.8 1.9,0 4.6,0 C5.4,0 6.1,0.25 6.7,0.7"/><path vector-effect="non-scaling-stroke" transform="translate(10.300,0)" d="M3.6,0 C5.1,0 6.2,0.95 6.2,2.3 C6.2,3.65 5.1,4.6 3.6,4.6 C2.1,4.6 1,3.65 1,2.3 C1,0.95 2.1,0 3.6,0 Z M3.6,4.6 C5.7,4.6 7.2,5.85 7.2,7.3 C7.2,8.85 5.7,10 3.6,10 C1.5,10 0,8.85 0,7.3 C0,5.85 1.5,4.6 3.6,4.6 Z"/><path vector-effect="non-scaling-stroke" transform="translate(20.900,0)" d="M3.95,0 C6.13,0 7.9,2.24 7.9,5 C7.9,7.76 6.13,10 3.95,10 C1.77,10 0,7.76 0,5 C0,2.24 1.77,0 3.95,0 Z"/></g>
</svg>
</body></html>
